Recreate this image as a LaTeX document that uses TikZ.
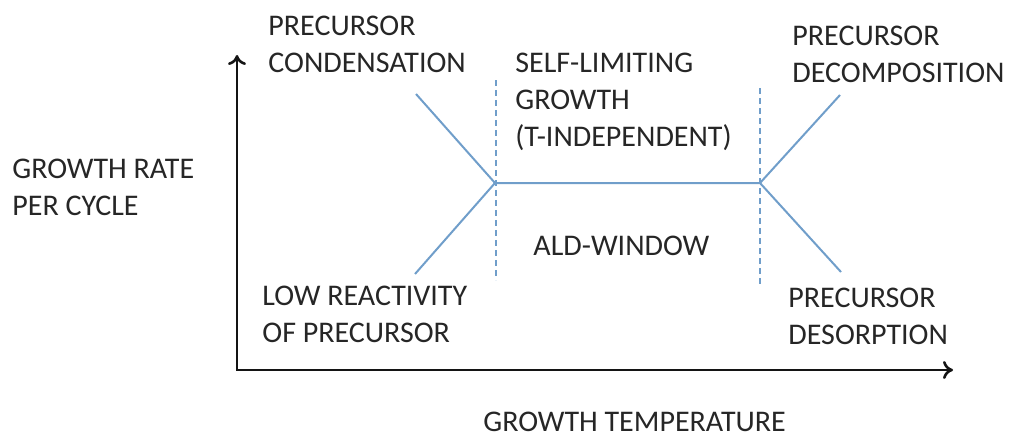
\documentclass[tikz,border=0pt]{standalone}
\usepackage{fontspec}
\setmainfont{Carlito}
\usepackage{tikz}
\usetikzlibrary{arrows.meta}
\definecolor{steelblue}{RGB}{112,158,202}
\definecolor{axisgrey}{RGB}{20,20,20}
\tikzset{%
    curve/.style={draw=steelblue, line width=1pt},
    window/.style={draw=steelblue, line width=1pt, dash pattern=on 3pt off 2pt},
    axis/.style={draw=axisgrey, line width=1.3pt, -{To[length=5pt,width=9pt]}},
    lbl/.style={anchor=north west, inner sep=0pt, align=left,
        font=\fontsize{15}{18.5}\selectfont, text=black!85}
}
\begin{document}
\begin{tikzpicture}[x=0.5pt,y=-0.5pt]
    \useasboundingbox (0,0) rectangle (1011,439);
    % axes
    \coordinate (origin) at (237,370);
    \coordinate (ytip) at (237,55);
    \coordinate (xtip) at (953,370);
    \draw[axis] (origin |- 0,370.5)--(ytip);
    \draw[axis] (236.4,370)--(xtip);
    % junctions and ends of the rate curve
    \coordinate (jl) at (495,183);
    \coordinate (jr) at (760,183);
    \coordinate (ul) at (416,94);
    \coordinate (ll) at (415,274);
    \coordinate (ur) at (840,95);
    \coordinate (lr) at (841,272);
    \draw[curve] (ul)--(jl)--(jr)--(ur);
    \draw[curve] (ll)--(jl);
    \draw[curve] (jr)--(lr);
    % window limits
    \coordinate (wltop) at (496,80);
    \coordinate (wlbot) at (496,280);
    \coordinate (wrtop) at (760,88);
    \coordinate (wrbot) at (760,287);
    \draw[window] (wltop)--(wlbot);
    \draw[window] (wrtop)--(wrbot);
    % labels
    \node[lbl] (rate) at (12,159) {GROWTH RATE\\PER CYCLE};
    \node[lbl] (cond) at (268,16) {PRECURSOR\\CONDENSATION};
    \node[lbl] (self) at (515,53) {SELF-LIMITING\\GROWTH\\(T-INDEPENDENT)};
    \node[lbl] (decomp) at (792,26) {PRECURSOR\\DECOMPOSITION};
    \node[lbl] (ald) at (533,236) {ALD-WINDOW};
    \node[lbl] (lowreact) at (262,286) {LOW REACTIVITY\\OF PRECURSOR};
    \node[lbl] (desorp) at (788,288) {PRECURSOR\\DESORPTION};
    \node[lbl] (temp) at (483,412) {GROWTH TEMPERATURE};
\end{tikzpicture}
\end{document}
